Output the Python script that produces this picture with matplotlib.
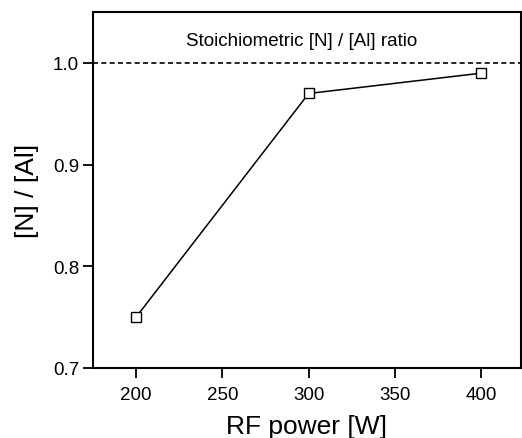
import matplotlib
matplotlib.use('Agg')
import matplotlib.pyplot as plt

plt.rcParams['font.family'] = ['Liberation Sans', 'DejaVu Sans']

# data
rf_power = [200, 300, 400]
n_al_ratio = [0.75, 0.97, 0.99]
stoich = 1.0
x_ticks = [200, 250, 300, 350, 400]
y_ticks = [0.7, 0.8, 0.9, 1.0]

fig = plt.figure(figsize=(5.22, 4.39), dpi=100)
ax = fig.add_axes([0.178, 0.1595, 0.820, 0.8105])

ax.axhline(stoich, color='black', ls=(0, (3, 2)), lw=1.2)
ax.plot(rf_power, n_al_ratio, '-', color='black', lw=1.1,
        marker='s', ms=7, mfc='white', mec='black', mew=1.0)

ax.text(296, 1.022, 'Stoichiometric [N] / [Al] ratio', ha='center', va='center', fontsize=13.5)

ax.set_xlim(175, 423)
ax.set_ylim(0.7, 1.05)
ax.set_xticks(x_ticks)
ax.set_yticks(y_ticks)
ax.set_yticklabels([f'{v:.1f}' for v in y_ticks])
ax.tick_params(direction='out', length=7, width=1.3, labelsize=13.5, pad=3,
               top=False, right=False)
ax.tick_params(axis='x', pad=6)
for s in ax.spines.values():
    s.set_linewidth(1.5)

ax.set_xlabel('RF power [W]', fontsize=19, labelpad=8)
ax.set_ylabel('[N] / [Al]', fontsize=19, labelpad=10)

fig.savefig('out.png', dpi=100)
